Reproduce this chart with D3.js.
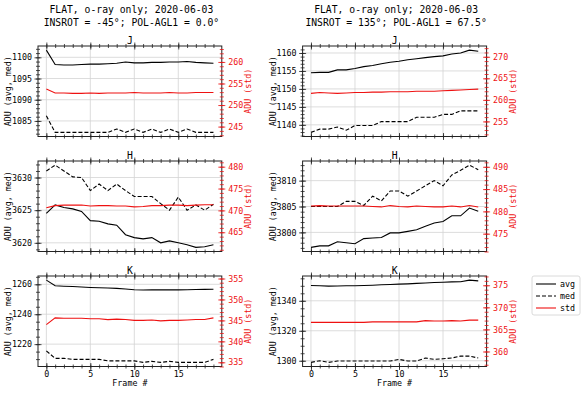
<!DOCTYPE html>
<html>
<head>
<meta charset="utf-8">
<script src="https://cdn.jsdelivr.net/npm/d3@7"></script>
<style>
  body { margin: 0; background: #fff; }
  svg { display: block; font-family: "DejaVu Sans Mono", monospace; }
  text { fill: #000; }
</style>
</head>
<body>
<svg id="chart" width="581" height="393"></svg>
<script>
// frame numbers
const frames = [0, 1, 2, 3, 4, 5, 6, 7, 8, 9, 10, 11, 12, 13, 14, 15, 16, 17, 18, 19];
const bands = ['J', 'H', 'K'];
const majorStep = [5, 5, 20];
const minorStep = [1, 1, 5];
const xTicks = [0, 5, 10, 15];

const titleLine1 = 'FLAT, o-ray only; 2020-06-03';
const titlesLine2 = ['INSROT = -45°; POL-AGL1 = 0.0°', 'INSROT = 135°; POL-AGL1 = 67.5°'];
const legendLabels = ['avg', 'med', 'std'];

// INSROT = -45
const jAvgL = [1101.7, 1098.3, 1098.2, 1098.2, 1098.3, 1098.4, 1098.4, 1098.5, 1098.6, 1098.9, 1098.7, 1098.7, 1098.8, 1098.8, 1098.9, 1098.9, 1099.0, 1098.8, 1098.7, 1098.6];
const jMedL = [1086.2, 1082.3, 1082.3, 1082.3, 1082.3, 1082.3, 1082.3, 1082.3, 1083.1, 1082.3, 1083.1, 1082.3, 1083.1, 1082.3, 1083.1, 1082.3, 1083.1, 1082.3, 1082.3, 1082.3];
const jStdL = [253.7, 252.8, 252.8, 252.7, 252.7, 252.8, 252.7, 252.8, 252.8, 252.8, 252.9, 252.8, 252.8, 252.8, 252.9, 252.8, 252.8, 252.9, 252.9, 252.9];
const hAvgL = [3624.5, 3625.8, 3625.4, 3625.2, 3624.8, 3623.4, 3623.3, 3622.9, 3622.7, 3621.25, 3620.8, 3620.6, 3620.8, 3620.0, 3620.3, 3620.0, 3619.7, 3619.3, 3619.4, 3619.7];
const hMedL = [3631.0, 3631.9, 3631.0, 3630.1, 3630.0, 3628.0, 3629.0, 3628.0, 3629.0, 3628.0, 3627.1, 3627.1, 3627.1, 3626.0, 3625.0, 3627.0, 3625.0, 3625.8, 3625.0, 3625.9];
const hStdL = [470.6, 471.1, 471.2, 471.2, 471.25, 471.0, 471.1, 471.1, 471.0, 471.0, 470.8, 470.9, 471.1, 471.1, 471.2, 471.2, 471.1, 471.2, 471.3, 471.3];
const kAvgL = [1262.8, 1259.0, 1258.7, 1258.5, 1258.2, 1257.9, 1257.7, 1257.5, 1257.3, 1256.9, 1256.4, 1256.2, 1256.3, 1256.3, 1256.3, 1256.3, 1256.4, 1256.5, 1256.6, 1256.7];
const kMedL = [1215.5, 1210.5, 1210.5, 1209.8, 1209.8, 1209.8, 1209.8, 1208.8, 1208.8, 1208.8, 1208.8, 1207.8, 1208.5, 1207.8, 1208.5, 1207.8, 1207.8, 1207.8, 1207.8, 1209.8];
const kStdL = [344.0, 345.6, 345.5, 345.5, 345.5, 345.4, 345.4, 345.2, 345.3, 345.2, 345.0, 345.0, 345.1, 344.9, 345.0, 345.0, 345.1, 345.2, 345.2, 345.6];

// INSROT = 135
const jAvgR = [1154.5, 1154.6, 1154.6, 1155.3, 1155.3, 1155.7, 1156.2, 1156.5, 1157.0, 1157.4, 1157.7, 1158.1, 1158.4, 1158.7, 1159.0, 1159.2, 1159.7, 1160.0, 1160.8, 1160.5];
const jMedR = [1137.9, 1138.8, 1138.8, 1139.4, 1138.5, 1139.8, 1139.8, 1139.8, 1140.9, 1140.9, 1140.9, 1140.9, 1142.1, 1142.1, 1142.1, 1142.9, 1142.9, 1143.9, 1143.9, 1143.9];
const jStdR = [261.5, 261.7, 261.6, 261.5, 261.6, 261.7, 261.7, 261.8, 261.8, 261.9, 261.9, 261.9, 262.0, 262.0, 262.0, 262.1, 262.2, 262.3, 262.4, 262.5];
const hAvgR = [3797.1, 3797.4, 3797.4, 3798.2, 3798.0, 3797.8, 3798.8, 3798.9, 3799.0, 3799.9, 3799.9, 3800.2, 3800.5, 3801.2, 3801.8, 3802.1, 3803.2, 3803.2, 3804.7, 3804.1];
const hMedR = [3805.0, 3805.0, 3805.0, 3805.0, 3806.0, 3806.0, 3805.2, 3807.0, 3806.1, 3808.0, 3808.0, 3807.0, 3808.0, 3809.0, 3810.0, 3809.0, 3811.1, 3812.0, 3813.0, 3812.1];
const hStdR = [481.2, 481.3, 481.2, 481.2, 481.2, 481.2, 481.2, 481.1, 481.0, 481.3, 481.1, 481.0, 481.2, 481.1, 481.0, 481.0, 481.2, 481.0, 481.3, 481.0];
const kAvgR = [1350.2, 1350.0, 1349.8, 1349.9, 1350.0, 1350.0, 1350.2, 1350.4, 1350.7, 1350.9, 1351.1, 1351.3, 1351.6, 1351.9, 1352.2, 1352.4, 1352.6, 1352.7, 1353.8, 1353.3];
const kMedR = [1298.9, 1300.0, 1298.9, 1299.8, 1299.8, 1299.8, 1299.8, 1299.8, 1299.8, 1299.8, 1300.9, 1299.8, 1299.8, 1301.8, 1300.9, 1301.3, 1301.8, 1303.1, 1303.1, 1301.8];
const kStdR = [366.6, 366.6, 366.6, 366.6, 366.6, 366.6, 366.6, 366.7, 366.7, 366.7, 366.7, 366.7, 366.7, 367.0, 366.9, 366.9, 367.0, 366.9, 367.1, 367.1];

const columns = [
  { x0: 38, x1: 221.8, avg: [jAvgL, hAvgL, kAvgL], med: [jMedL, hMedL, kMedL], std: [jStdL, hStdL, kStdL] },
  { x0: 302.6, x1: 486.6, avg: [jAvgR, hAvgR, kAvgR], med: [jMedR, hMedR, kMedR], std: [jStdR, hStdR, kStdR] }
];
const rowTop = [46, 161, 276];
const rowH = 90.5;
const RED = '#ee1111';
const GRID = '#d3d3d3';
const tickFont = 8.33;
const titleFont = 9.72;

const svg = d3.select('#chart');

function range(lo, hi, step) {
  const out = [];
  for (let v = Math.ceil(lo / step - 1e-9) * step; v <= hi + 1e-9; v += step) out.push(+v.toFixed(6));
  return out;
}

// make ticks cross the spine (in + out)
function inout(g, len, horizontal) {
  g.selectAll('.tick line').each(function () {
    const l = d3.select(this);
    if (horizontal) l.attr('y1', -len).attr('y2', len);
    else l.attr('x1', -len).attr('x2', len);
  });
  g.select('.domain').remove();
}

columns.forEach((col, ci) => {
  const cx = (col.x0 + col.x1) / 2;
  svg.append('text').attr('x', cx + 1.5).attr('y', 12.5).attr('text-anchor', 'middle')
    .attr('font-size', titleFont).text(titleLine1);
  svg.append('text').attr('x', cx + 1.5).attr('y', 25.5).attr('text-anchor', 'middle')
    .attr('font-size', titleFont).text(titlesLine2[ci]);

  const x = d3.scaleLinear().domain([-0.95, 19.95]).range([col.x0, col.x1]);

  bands.forEach((band, ri) => {
    const top = rowTop[ri], bot = top + rowH;
    const avg = col.avg[ri], med = col.med[ri], std = col.std[ri];

    // left axis: 5% margins around avg+med
    const all = avg.concat(med);
    const lo = d3.min(all), hi = d3.max(all), pad = (hi - lo) * 0.05;
    const y = d3.scaleLinear().domain([lo - pad, hi + pad]).range([bot, top]);
    // right axis: std range +/- 10
    const y2 = d3.scaleLinear().domain([d3.min(std) - 10, d3.max(std) + 10]).range([bot, top]);

    const g = svg.append('g');
    const yMajor = range(y.domain()[0], y.domain()[1], majorStep[ri]);
    const yMinor = range(y.domain()[0], y.domain()[1], minorStep[ri]);
    const y2Major = range(y2.domain()[0], y2.domain()[1], 5);
    const y2Minor = range(y2.domain()[0], y2.domain()[1], 1);
    const xMinor = range(-0.95, 19.95, 1);

    // grid
    g.append('g').selectAll('line').data(xTicks).join('line')
      .attr('x1', d => x(d)).attr('x2', d => x(d)).attr('y1', top).attr('y2', bot)
      .attr('stroke', GRID).attr('stroke-width', 0.8);
    g.append('g').selectAll('line').data(yMajor).join('line')
      .attr('x1', col.x0).attr('x2', col.x1).attr('y1', d => y(d)).attr('y2', d => y(d))
      .attr('stroke', GRID).attr('stroke-width', 0.8);

    // lines
    const line = (sc) => d3.line().x((d, i) => x(frames[i])).y(d => sc(d));
    g.append('path').attr('d', line(y)(avg)).attr('fill', 'none').attr('stroke', '#000').attr('stroke-width', 1.1);
    g.append('path').attr('d', line(y)(med)).attr('fill', 'none').attr('stroke', '#000').attr('stroke-width', 1.1)
      .attr('stroke-dasharray', '4,2');
    g.append('path').attr('d', line(y2)(std)).attr('fill', 'none').attr('stroke', RED).attr('stroke-width', 1.1);

    // frame
    g.append('rect').attr('x', col.x0).attr('y', top).attr('width', col.x1 - col.x0).attr('height', rowH)
      .attr('fill', 'none').attr('stroke', '#222').attr('stroke-width', 1);

    // x axes (bottom + top)
    const showX = ri === 2;
    const xb = g.append('g').attr('transform', `translate(0,${bot})`)
      .call(d3.axisBottom(x).tickValues(xTicks).tickSize(3.5).tickPadding(1.5)
        .tickFormat(showX ? d3.format('d') : () => ''));
    inout(xb, 3.5, true);
    const xbm = g.append('g').attr('transform', `translate(0,${bot})`)
      .call(d3.axisBottom(x).tickValues(xMinor).tickSize(2).tickFormat(() => ''));
    inout(xbm, 2, true);
    const xt = g.append('g').attr('transform', `translate(0,${top})`)
      .call(d3.axisTop(x).tickValues(xTicks).tickFormat(() => ''));
    inout(xt, 3.5, true);
    const xtm = g.append('g').attr('transform', `translate(0,${top})`)
      .call(d3.axisTop(x).tickValues(xMinor).tickFormat(() => ''));
    inout(xtm, 2, true);

    // left axis
    const yl = g.append('g').attr('transform', `translate(${col.x0},0)`)
      .call(d3.axisLeft(y).tickValues(yMajor).tickSize(3.5).tickPadding(2.5).tickFormat(d3.format('d')));
    inout(yl, 3.5, false);
    const ylm = g.append('g').attr('transform', `translate(${col.x0},0)`)
      .call(d3.axisLeft(y).tickValues(yMinor).tickFormat(() => ''));
    inout(ylm, 2, false);

    // right axis (std)
    const yr = g.append('g').attr('transform', `translate(${col.x1},0)`)
      .call(d3.axisRight(y2).tickValues(y2Major).tickSize(3.5).tickPadding(3).tickFormat(d3.format('d')));
    inout(yr, 3.5, false);
    const yrm = g.append('g').attr('transform', `translate(${col.x1},0)`)
      .call(d3.axisRight(y2).tickValues(y2Minor).tickFormat(() => ''));
    inout(yrm, 2, false);

    g.selectAll('.tick text').attr('font-family', '"DejaVu Sans Mono", monospace').attr('font-size', tickFont);
    [xb, xbm, xt, xtm, yl, ylm].forEach(a => a.selectAll('.tick line').attr('stroke', '#222').attr('stroke-width', 0.8));
    [yr, yrm].forEach(a => {
      a.selectAll('.tick line').attr('stroke', RED).attr('stroke-width', 0.8);
      a.selectAll('.tick text').style('fill', RED);
    });

    // panel title
    g.append('text').attr('x', cx).attr('y', top - 2.5).attr('text-anchor', 'middle')
      .attr('font-size', titleFont).style('fill', '#000').text(band);

    // axis labels
    const midY = (top + bot) / 2;
    g.append('text').attr('transform', `translate(${col.x0 - 30},${midY}) rotate(-90)`)
      .attr('text-anchor', 'middle').attr('dy', '0.35em').attr('font-size', tickFont).text('ADU (avg, med)');
    g.append('text').attr('transform', `translate(${col.x1 + 26.5},${midY}) rotate(-90)`)
      .attr('text-anchor', 'middle').attr('dy', '0.35em').attr('font-size', tickFont).style('fill', RED).text('ADU (std)');

    if (showX) {
      g.append('text').attr('x', cx).attr('y', bot + 19.5).attr('text-anchor', 'middle')
        .attr('font-size', tickFont).text('Frame #');
    }
  });
});

// legend
const lg = svg.append('g').attr('transform', 'translate(532,276)');
lg.append('rect').attr('width', 48).attr('height', 39).attr('rx', 2)
  .attr('fill', '#fff').attr('stroke', '#d0d0d0').attr('stroke-width', 0.8);
const legendStyle = [{ c: '#000', d: null }, { c: '#000', d: '4,2' }, { c: RED, d: null }];
legendLabels.forEach((lab, i) => {
  const yy = 8 + i * 12;
  lg.append('line').attr('x1', 4).attr('x2', 24).attr('y1', yy).attr('y2', yy)
    .attr('stroke', legendStyle[i].c).attr('stroke-width', 1.1)
    .attr('stroke-dasharray', legendStyle[i].d);
  lg.append('text').attr('x', 28).attr('y', yy + 3).attr('font-size', tickFont).text(lab);
});
</script>
</body>
</html>
